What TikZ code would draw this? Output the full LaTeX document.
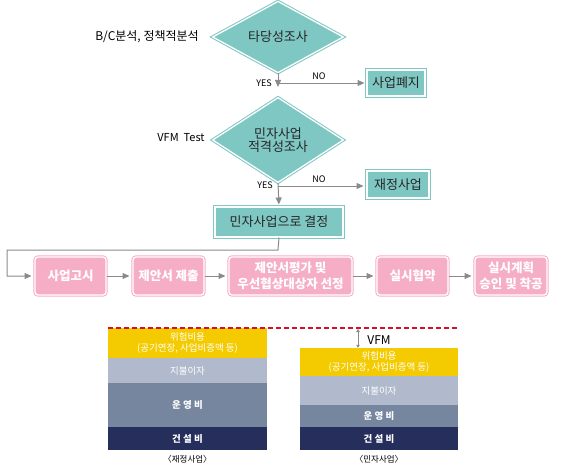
\documentclass[tikz,border=0pt]{standalone}
\usepackage{fontspec}
\setmainfont{Noto Sans CJK KR}
\usetikzlibrary{shapes.geometric,arrows.meta}
\definecolor{tealfill}{HTML}{7FC7C3}
\definecolor{pinkfill}{HTML}{F5AEC6}
\definecolor{arrowgray}{HTML}{8A8A8A}
\definecolor{riskyellow}{HTML}{F4CB00}
\definecolor{interestgray}{HTML}{B1BACC}
\definecolor{opslate}{HTML}{76869F}
\definecolor{buildnavy}{HTML}{262E5C}
\definecolor{vfmred}{HTML}{D5102C}
\tikzset{
  decide/.style={diamond, fill=tealfill, draw=tealfill, double=white, double distance=1.3pt,
    line width=1pt, minimum width=131pt, minimum height=60pt, inner sep=0pt,
    align=center, font=\fontsize{13}{13.5}\selectfont, text=black!85},
  tealbox/.style={rectangle, fill=tealfill, draw=tealfill, double=white, double distance=1.3pt,
    line width=1pt, inner sep=0pt, font=\fontsize{13}{15}\selectfont, text=black!85},
  pinkbox/.style={rectangle, rounded corners=3pt, fill=pinkfill, draw=pinkfill, double=white,
    double distance=1.3pt, line width=1pt, inner sep=0pt, minimum height=38pt, align=center,
    font=\bfseries\fontsize{12.5}{16}\selectfont, text=white},
  arr/.style={draw=arrowgray, line width=1pt, -{Triangle[length=7pt,width=6pt]}},
  yesno/.style={font=\fontsize{9}{10}\selectfont, text=black},
  side/.style={font=\fontsize{12}{14}\selectfont, text=black},
  bar/.style={rectangle, inner sep=0pt, align=center, text=white, font=\fontsize{9.5}{11}\selectfont},
  caption/.style={font=\fontsize{8.5}{10}\selectfont, text=black}
}
\begin{document}
\begin{tikzpicture}[x=1pt,y=-1pt]
\useasboundingbox (0,0) rectangle (568,475);
% feasibility steps
\node[decide] (feas) at (278,37) {타당성조사};
\node[side] (feasnote) at (147,37) {B/C분석, 정책적분석};
\node[tealbox, minimum width=58pt, minimum height=26pt] (drop) at (396,83) {사업폐지};
\node[decide] (ppp) at (278,140) {민자사업\\적격성조사};
\node[side, font=\fontsize{11}{13}\selectfont] (vfmtest) at (181,138) {VFM\ \ Test};
\node[tealbox, minimum width=62pt, minimum height=27pt] (public) at (398,184.5) {재정사업};
\node[tealbox, minimum width=128pt, minimum height=30pt] (choose) at (279,222) {민자사업으로\ 결정};
% procurement steps
\node[pinkbox, minimum width=71pt] (s1) at (70.5,276) {사업고시};
\node[pinkbox, minimum width=71pt] (s2) at (168.5,276) {제안서 제출};
\node[pinkbox, minimum width=123pt] (s3) at (290.5,276) {제안서평가 및\\우선협상대상자 선정};
\node[pinkbox, minimum width=71pt] (s4) at (412.5,276) {실시협약};
\node[pinkbox, minimum width=72pt] (s5) at (511,276) {실시계획\\승인 및 착공};
% connectors
\coordinate (no1) at (278,83);
\coordinate (no2) at (278,186);
\coordinate (turnR) at (278,250);
\coordinate (turnL) at (7,250);
\draw[arr, shorten >=10pt] (feas.south) -- (ppp.north);
\draw[arr, shorten >=2pt] (no1) -- (drop.west);
\node[yesno] (yes1) at (264,83) {YES};
\node[yesno] (nolab1) at (319,76) {NO};
\draw[arr, shorten >=2pt] (ppp.south) -- (choose.north);
\draw[arr, shorten >=3pt] (no2) -- (no2 -| public.west);
\node[yesno] (yes2) at (265,185) {YES};
\node[yesno] (nolab2) at (319,179) {NO};
\draw[arr, shorten >=3pt] (choose.south) -- (turnR) -- (turnL) |- (s1.west);
\draw[arr, shorten >=3pt] (s1.east) -- (s2.west);
\draw[arr, shorten >=3pt] (s2.east) -- (s3.west);
\draw[arr, shorten >=3pt] (s3.east) -- (s4.west);
\draw[arr, shorten >=3pt] (s4.east) -- (s5.west);
% cost stacks
\node[bar, fill=riskyellow, minimum width=159pt, minimum height=30pt] (riskA) at (187.5,343) {위험비용\\(공기연장, 사업비증액 등)};
\node[bar, fill=interestgray, minimum width=159pt, minimum height=25pt] (intA) at (187.5,370.5) {지불이자};
\node[bar, fill=opslate, minimum width=159pt, minimum height=44pt, font=\bfseries\fontsize{9.5}{11}\selectfont] (opA) at (187.5,405) {운 영 비};
\node[bar, fill=buildnavy, minimum width=159pt, minimum height=23pt, font=\bfseries\fontsize{9.5}{11}\selectfont] (capA) at (187.5,438.5) {건 설 비};
\node[caption] (capLeft) at (187.5,459) {〈재정사업〉};
\node[bar, fill=riskyellow, minimum width=158pt, minimum height=28pt] (riskB) at (379,362) {위험비용\\(공기연장, 사업비증액 등)};
\node[bar, fill=interestgray, minimum width=158pt, minimum height=29pt] (intB) at (379,390.5) {지불이자};
\node[bar, fill=opslate, minimum width=158pt, minimum height=22pt, font=\bfseries\fontsize{9.5}{11}\selectfont] (opB) at (379,416) {운 영 비};
\node[bar, fill=buildnavy, minimum width=158pt, minimum height=23pt, font=\bfseries\fontsize{9.5}{11}\selectfont] (capB) at (379,438.5) {건 설 비};
\node[caption] (capRight) at (379,459) {〈민자사업〉};
\draw[vfmred, line width=1.6pt, dash pattern=on 5pt off 3pt] (riskA.north west) -- (riskA.north west -| riskB.north east);
\coordinate (vfmtop) at (358,329);
\draw[arrowgray, line width=1pt, {Triangle[length=3pt,width=3.5pt]}-{Triangle[length=3pt,width=3.5pt]}] (vfmtop) -- (vfmtop |- riskB.north);
\node[font=\fontsize{12}{14}\selectfont] (vfm) at (379,340) {VFM};
\end{tikzpicture}
\end{document}
